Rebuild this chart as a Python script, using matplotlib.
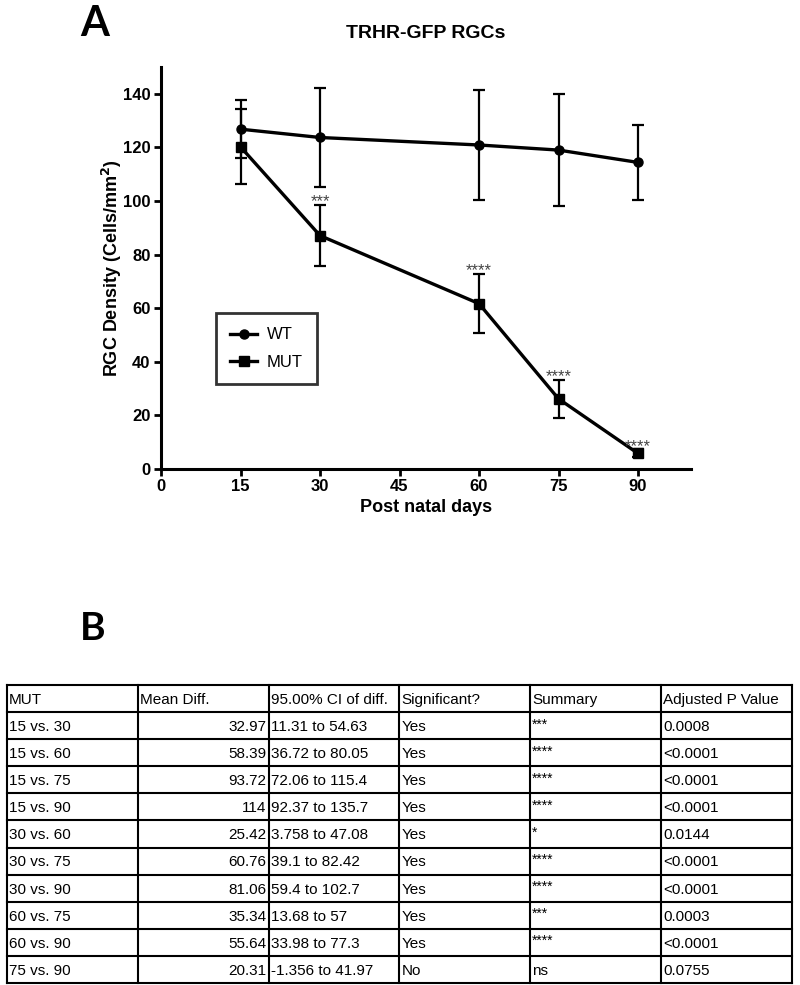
import matplotlib
matplotlib.use("Agg")
import matplotlib.pyplot as plt
from matplotlib.lines import Line2D

plt.rcParams['font.family'] = ['Liberation Sans', 'DejaVu Sans']

# ---- data ----
days = [15, 30, 60, 75, 90]
wt_mean = [126.8, 123.7, 120.9, 119.0, 114.4]
wt_err = [10.8, 18.5, 20.4, 21.0, 14.0]
mut_mean = [120.2, 87.1, 61.7, 26.2, 5.8]
mut_err = [14.0, 11.3, 11.0, 7.0, 1.5]
mut_sig = ['', '***', '****', '****', '****']
x_ticks = [0, 15, 30, 45, 60, 75, 90]
y_ticks = [0, 20, 40, 60, 80, 100, 120, 140]

col_headers = ['MUT', 'Mean Diff.', '95.00% CI of diff.', 'Significant?', 'Summary', 'Adjusted P Value']
comparisons = ['15 vs. 30', '15 vs. 60', '15 vs. 75', '15 vs. 90', '30 vs. 60',
               '30 vs. 75', '30 vs. 90', '60 vs. 75', '60 vs. 90', '75 vs. 90']
mean_diff = ['32.97', '58.39', '93.72', '114', '25.42', '60.76', '81.06', '35.34', '55.64', '20.31']
ci_diff = ['11.31 to 54.63', '36.72 to 80.05', '72.06 to 115.4', '92.37 to 135.7', '3.758 to 47.08',
           '39.1 to 82.42', '59.4 to 102.7', '13.68 to 57', '33.98 to 77.3', '-1.356 to 41.97']
significant = ['Yes'] * 9 + ['No']
summary = ['***', '****', '****', '****', '*', '****', '****', '***', '****', 'ns']
p_values = ['0.0008', '<0.0001', '<0.0001', '<0.0001', '0.0144', '<0.0001', '<0.0001',
            '0.0003', '<0.0001', '0.0755']

W, H = 800, 985
fig = plt.figure(figsize=(W / 100, H / 100), dpi=100)

# ---- panel A ----
ax = fig.add_axes([161 / W, 1 - 469 / H, (691 - 161) / W, (469 - 67) / H])
ax.errorbar(days, wt_mean, yerr=wt_err, color='black', lw=2.4, marker='o', ms=6.5,
            elinewidth=1.6, capsize=4.5, capthick=1.6)
ax.errorbar(days, mut_mean, yerr=mut_err, color='black', lw=2.4, marker='s', ms=6.5,
            elinewidth=1.6, capsize=4.5, capthick=1.6)
for x, m, e, s in zip(days, mut_mean, mut_err, mut_sig):
    if s:
        ax.text(x, m + e - 1.6, s, ha='center', va='bottom', fontsize=12, color='#444444')
ax.set_xlim(0, 100)
ax.set_ylim(0, 150)
ax.set_xticks(x_ticks)
ax.set_yticks(y_ticks)
for sp in ['top', 'right']:
    ax.spines[sp].set_visible(False)
for sp in ['left', 'bottom']:
    ax.spines[sp].set_linewidth(2.2)
ax.tick_params(width=2, length=5, pad=2.5, labelsize=12, direction='out')
for lab in ax.get_xticklabels() + ax.get_yticklabels():
    lab.set_fontweight('bold')
ax.set_xlabel('Post natal days', fontsize=13, fontweight='bold', labelpad=3)
ax.set_ylabel('RGC Density (Cells/mm$\\mathbf{^2}$)', fontsize=13, fontweight='bold', labelpad=-1)
ax.set_title('TRHR-GFP RGCs', fontsize=14, fontweight='bold', pad=21)
handles = [Line2D([], [], color='black', lw=2.4, marker='o', ms=6.5),
           Line2D([], [], color='black', lw=2.4, marker='s', ms=6.5)]
leg = ax.legend(handles, ['WT', 'MUT'], loc='lower left',
                bbox_to_anchor=((216 - 161) / 530, (469 - 384) / 402),
                borderaxespad=0, fontsize=12, fancybox=False, edgecolor='black',
                handlelength=1.6, borderpad=0.85, labelspacing=0.75, handletextpad=0.6)
leg.get_frame().set_linewidth(2.0)

fig.text(80 / W, 1 - 24 / H, 'A', fontsize=30, fontweight='bold', family=['Lato', 'DejaVu Sans'],
         ha='left', va='center')
fig.text(80 / W, 1 - 628 / H, 'B', fontsize=28, fontweight='bold', family=['Lato', 'DejaVu Sans'],
         ha='left', va='center')

# ---- panel B: table ----
tx0, tx1, ty0, ty1 = 7, 792, 685, 983
axt = fig.add_axes([tx0 / W, 1 - ty1 / H, (tx1 - tx0) / W, (ty1 - ty0) / H])
ncol, nrow = len(col_headers), len(comparisons) + 1
axt.set_xlim(0, ncol)
axt.set_ylim(nrow, 0)
axt.axis('off')
for r in range(nrow + 1):
    axt.plot([0, ncol], [r, r], color='black', lw=1.5, clip_on=False, solid_capstyle='projecting')
for c in range(ncol + 1):
    axt.plot([c, c], [0, nrow], color='black', lw=1.5, clip_on=False, solid_capstyle='projecting')
rows = [col_headers] + [list(t) for t in zip(comparisons, mean_diff, ci_diff, significant, summary, p_values)]
pad = 0.015
for r, row in enumerate(rows):
    for c, txt in enumerate(row):
        if c == 1 and r > 0:
            axt.text(c + 1 - pad, r + 0.55, txt, ha='right', va='center', fontsize=11)
        else:
            fs = 11
            yy = r + 0.55
            if c == 4 and r > 0 and txt != 'ns':
                fs = 10
                yy = r + 0.45
            axt.text(c + pad, yy, txt, ha='left', va='center', fontsize=fs)

fig.savefig('out.png', dpi=100)
